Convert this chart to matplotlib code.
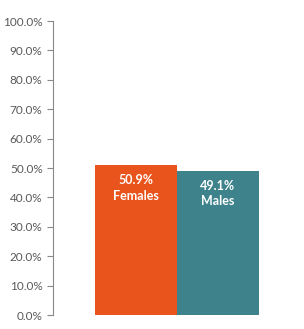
import matplotlib.pyplot as plt
from matplotlib.ticker import PercentFormatter

# data
groups = ['Females', 'Males']
shares = [50.9, 49.1]
colors = ['#E8541C', '#3E838C']

plt.rcParams['font.family'] = 'Lato'

fig = plt.figure(figsize=(3.04, 3.29), dpi=100)
ax = fig.add_axes([53/304, 14/329, 247/304, 294/329])

x = range(len(groups))
ax.bar(x, shares, width=1.0, color=colors)

for i, (g, v) in enumerate(zip(groups, shares)):
    ax.annotate(f'{v:.1f}%\n{g}', xy=(i, v), xytext=(0, -6.5), textcoords='offset points',
                ha='center', va='top', color='white', fontweight='bold',
                fontsize=9, linespacing=1.35)

ax.set_xlim(-1.01, 2.0)
ax.set_ylim(0, 100)
ax.set_yticks(range(0, 101, 10))
ax.yaxis.set_major_formatter(PercentFormatter(decimals=1))
ax.tick_params(axis='y', colors='#888888', labelcolor='#595959', labelsize=8.5,
               length=4, width=0.8)
ax.set_xticks([])
for s in ['top', 'right', 'bottom']:
    ax.spines[s].set_visible(False)
ax.spines['left'].set_color('#888888')
ax.spines['left'].set_linewidth(0.8)

fig.savefig('out.png', dpi=100)
